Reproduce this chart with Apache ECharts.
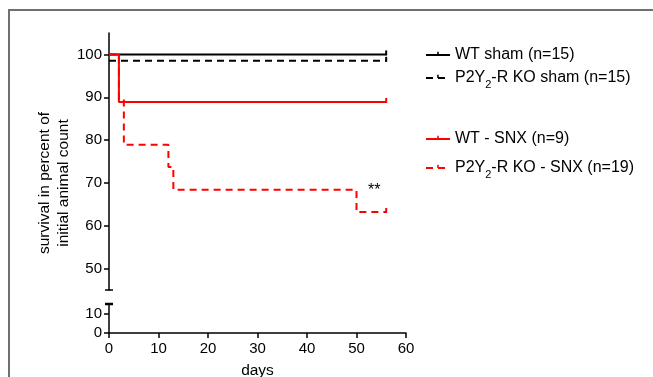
<!DOCTYPE html>
<html>
<head>
<meta charset="utf-8">
<script src="https://cdn.jsdelivr.net/npm/echarts@6/dist/echarts.min.js"></script>
<style>
  html, body { margin: 0; padding: 0; background: #fff; }
  #chart { width: 653px; height: 377px; }
</style>
</head>
<body>
<div id="chart"></div>
<script>
// survival data (Kaplan-Meier steps), day -> percent
const wtShamDays = [0, 56];
const wtShamSurv = [100, 100];
const koShamDays = [0, 56];
const koShamSurv = [98.5, 98.5];
const wtSnxDays = [0, 2, 56];
const wtSnxSurv = [100, 88.9, 88.9];
const koSnxDays = [0, 2, 3, 12, 13, 50, 56];
const koSnxSurv = [100, 89.5, 78.9, 73.7, 68.4, 63.2, 63.2];

const xTicks = [0, 10, 20, 30, 40, 50, 60];
const yTicksUpper = [50, 60, 70, 80, 90, 100];
const yTicksLower = [0, 10];

const seriesNames = [
  'WT sham (n=15)',
  'P2Y2-R KO sham (n=15)',
  'WT - SNX (n=9)',
  'P2Y2-R KO - SNX (n=19)'
];
// significance mark
const starPos = [53.6, 68.2];

const FONT = 'Liberation Sans, Arial, sans-serif';
// small upward tick (censor mark) used in the legend
const TICK = 'path://M0,0 M10,10 M4.3,2 L5.7,2 L5.7,5 L4.3,5 Z';

const chart = echarts.init(document.getElementById('chart'));

// only the last point (censoring) gets a tick mark
function steps(days, surv) {
  return days.map((d, i) => {
    if (i === days.length - 1) {
      return { value: [d, surv[i]], symbol: 'rect', symbolSize: [2, 5], symbolOffset: [0, -1.5] };
    }
    return { value: [d, surv[i]], symbol: 'none' };
  });
}

function legendFmt(name) {
  if (name.indexOf('P2Y2') === 0) {
    return '{a|P2Y}{s|2}{a|' + name.slice(4) + '}';
  }
  return '{a|' + name + '}';
}

const legendText = {
  fontFamily: FONT,
  color: '#000',
  rich: {
    a: { fontSize: 16, fontFamily: FONT, color: '#000', lineHeight: 24 },
    s: { fontSize: 11, fontFamily: FONT, color: '#000', lineHeight: 24, verticalAlign: 'bottom' }
  }
};

function makeLegend(name, top) {
  return {
    data: [name],
    left: 420,
    top: top,
    orient: 'vertical',
    itemWidth: 24,
    itemHeight: 14,
    itemGap: 6,
    symbolKeepAspect: true,
    selectedMode: false,
    formatter: legendFmt,
    textStyle: legendText
  };
}

function lineSeries(name, days, surv, color, dashed) {
  return {
    name: name,
    type: 'line',
    xAxisIndex: 0,
    yAxisIndex: 0,
    step: 'end',
    symbol: TICK,
    showSymbol: true,
    animation: false,
    lineStyle: { color: color, width: 2, type: dashed ? [7, 5] : 'solid' },
    itemStyle: { color: color },
    data: steps(days, surv)
  };
}

const option = {
  backgroundColor: '#fff',
  animation: false,
  grid: [
    { left: 109, top: 33, width: 297, height: 257, outerBoundsMode: 'none' },
    { left: 109, top: 304, width: 297, height: 29, outerBoundsMode: 'none' }
  ],
  legend: [
    makeLegend(seriesNames[0], 42),
    makeLegend(seriesNames[1], 65),
    makeLegend(seriesNames[2], 126),
    makeLegend(seriesNames[3], 155)
  ],
  xAxis: [
    { gridIndex: 0, type: 'value', min: 0, max: 60, interval: 10, show: false },
    {
      gridIndex: 1, type: 'value', min: 0, max: 60, interval: 10,
      name: 'days', nameLocation: 'middle', nameGap: 30,
      nameTextStyle: { fontFamily: FONT, fontSize: 15.5, color: '#000' },
      axisLine: { onZero: false, lineStyle: { color: '#000', width: 1.5 } },
      axisTick: { length: 5, lineStyle: { color: '#000', width: 1.5 } },
      axisLabel: {
        margin: 8, fontFamily: FONT, fontSize: 15, color: '#000',
        customValues: xTicks
      },
      splitLine: { show: false }
    }
  ],
  yAxis: [
    {
      gridIndex: 0, type: 'value', min: 45, max: 105,
      axisLine: { show: true, onZero: false, lineStyle: { color: '#000', width: 1.5 } },
      axisTick: { show: true, length: 5, lineStyle: { color: '#000', width: 1.5 }, customValues: yTicksUpper },
      axisLabel: { margin: 7, fontFamily: FONT, fontSize: 15, color: '#000', customValues: yTicksUpper },
      splitLine: { show: false }
    },
    {
      gridIndex: 1, type: 'value', min: 0, max: 15,
      axisLine: { show: true, onZero: false, lineStyle: { color: '#000', width: 1.5 } },
      axisTick: { show: true, length: 5, lineStyle: { color: '#000', width: 1.5 }, customValues: yTicksLower },
      axisLabel: { margin: 7, fontFamily: FONT, fontSize: 15, color: '#000', customValues: yTicksLower },
      splitLine: { show: false }
    }
  ],
  series: [
    lineSeries(seriesNames[0], wtShamDays, wtShamSurv, '#000', false),
    lineSeries(seriesNames[1], koShamDays, koShamSurv, '#000', true),
    lineSeries(seriesNames[2], wtSnxDays, wtSnxSurv, '#ff0000', false),
    Object.assign(lineSeries(seriesNames[3], koSnxDays, koSnxSurv, '#ff0000', true), {
      markPoint: {
        symbol: 'circle',
        symbolSize: 0,
        label: {
          show: true, position: 'inside', formatter: '**',
          fontFamily: FONT, fontSize: 16, color: '#000'
        },
        data: [{ coord: starPos }]
      }
    })
  ]
};

chart.setOption(option);

// frame, axis break caps and y title
const x0 = chart.convertToPixel({ xAxisIndex: 1 }, 0);
const yBreakLow = chart.convertToPixel({ yAxisIndex: 0 }, 45);
const yBreakHigh = chart.convertToPixel({ yAxisIndex: 1 }, 15);

chart.setOption({
  graphic: [
    {
      type: 'polyline',
      shape: { points: [[9, 377], [9, 10], [653, 10]] },
      style: { stroke: '#707070', lineWidth: 2, fill: null }
    },
    {
      type: 'line',
      shape: { x1: x0 - 4, y1: yBreakLow, x2: x0 + 4, y2: yBreakLow },
      style: { stroke: '#000', lineWidth: 1.5 }
    },
    {
      type: 'line',
      shape: { x1: x0 - 4, y1: yBreakHigh, x2: x0 + 4, y2: yBreakHigh },
      style: { stroke: '#000', lineWidth: 2.5 }
    },
    {
      type: 'text',
      x: 54,
      y: 183,
      rotation: Math.PI / 2,
      style: {
        text: 'survival in percent of\ninitial animal count',
        fontFamily: FONT,
        fontSize: 15.5,
        lineHeight: 19,
        fill: '#000',
        align: 'center',
        verticalAlign: 'middle'
      }
    }
  ]
});
</script>
</body>
</html>
